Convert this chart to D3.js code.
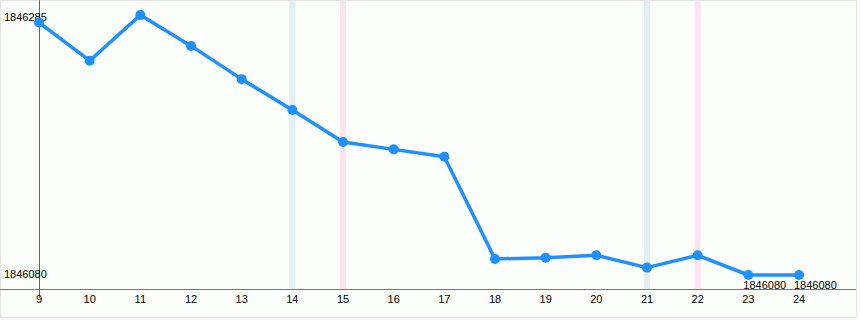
<!DOCTYPE html>
<html>
<head>
<meta charset="utf-8">
<script src="https://cdn.jsdelivr.net/npm/d3@7"></script>
<style>
  body { margin: 0; background: #fff; }
  svg { display: block; font-family: "Liberation Sans", Arial, sans-serif; }
</style>
</head>
<body>
<div id="chart"></div>
<script>
const width = 860;
const height = 320;

const hours = [9, 10, 11, 12, 13, 14, 15, 16, 17, 18, 19, 20, 21, 22, 23, 24];
const values = [1846285, 1846254, 1846291, 1846266, 1846239, 1846214, 1846188, 1846182,
    1846176, 1846093, 1846094, 1846096, 1846086, 1846096, 1846080, 1846080];
const blueBands = [14, 21];
const pinkBands = [15, 22];
const yLabels = [1846285, 1846080];
const pointLabels = [23, 24];

const x = d3.scaleLinear()
    .domain([9, 24])
    .range([39, 799]);

const y = d3.scaleLinear()
    .domain([1846080, 1846285])
    .range([275, 22.5]);

const axisY = 289.5;

const svg = d3.select('#chart').append('svg')
    .attr('width', width)
    .attr('height', height);

svg.append('rect')
    .attr('x', 0.5)
    .attr('y', 0.5)
    .attr('width', width - 4)
    .attr('height', height - 3)
    .style('fill', '#fcfefc')
    .style('stroke', '#e4e4e4');

// weekend markers
svg.selectAll('.band-blue')
    .data(blueBands)
    .enter().append('rect')
    .attr('class', 'band-blue')
    .attr('x', d => x(d) - 3)
    .attr('y', 1)
    .attr('width', 6)
    .attr('height', axisY - 1)
    .style('fill', '#e3f0f3');

svg.selectAll('.band-pink')
    .data(pinkBands)
    .enter().append('rect')
    .attr('class', 'band-pink')
    .attr('x', d => x(d) - 3)
    .attr('y', 1)
    .attr('width', 6)
    .attr('height', axisY - 1)
    .style('fill', '#fbe6ef');

// axes
svg.append('line')
    .attr('x1', 0)
    .attr('x2', width - 4)
    .attr('y1', axisY)
    .attr('y2', axisY)
    .style('stroke', '#777');

svg.append('line')
    .attr('x1', x(9) + 0.5)
    .attr('x2', x(9) + 0.5)
    .attr('y1', 0)
    .attr('y2', 298)
    .style('stroke', '#666');

svg.selectAll('.xlabel')
    .data(hours)
    .enter().append('text')
    .attr('class', 'xlabel')
    .attr('x', d => x(d))
    .attr('y', 303)
    .style('text-anchor', 'middle')
    .style('font-size', '11px')
    .style('fill', '#000')
    .text(d => d);

svg.selectAll('.ylabel')
    .data(yLabels)
    .enter().append('text')
    .attr('class', 'ylabel')
    .attr('x', 4)
    .attr('y', (d, i) => y(d) + (i === 0 ? -2 : 3))
    .style('font-size', '11px')
    .style('fill', '#000')
    .text(d => d);

// series
const line = d3.line()
    .x((d, i) => x(hours[i]))
    .y(d => y(d));

svg.append('path')
    .datum(values)
    .attr('d', line)
    .style('fill', 'none')
    .style('stroke', '#1e90ff')
    .style('stroke-width', 3.5)
    .style('stroke-linejoin', 'round');

svg.selectAll('.dot')
    .data(values)
    .enter().append('circle')
    .attr('class', 'dot')
    .attr('cx', (d, i) => x(hours[i]))
    .attr('cy', d => y(d))
    .attr('r', 5)
    .style('fill', '#1e90ff');

svg.selectAll('.plabel')
    .data(pointLabels)
    .enter().append('text')
    .attr('class', 'plabel')
    .attr('x', d => x(d) - 5)
    .attr('y', d => y(values[hours.indexOf(d)]) + 13.5)
    .style('font-size', '11px')
    .style('fill', '#000')
    .text(d => values[hours.indexOf(d)]);
</script>
</body>
</html>
